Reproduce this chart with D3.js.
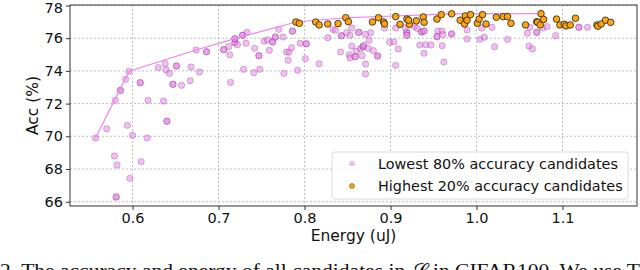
<!DOCTYPE html>
<html>
<head>
<meta charset="utf-8">
<script src="https://cdn.jsdelivr.net/npm/d3@7"></script>
<style>
  body { margin: 0; background: #fff; }
  svg { display: block; font-family: "DejaVu Sans", sans-serif; }
</style>
</head>
<body>
<div id="chart"></div>
<script>
// Daten
const lowPoints = [
  [0.557, 69.9], [0.570, 70.45], [0.594, 70.67], [0.600, 70.06], [0.617, 69.9],
  [0.640, 70.92], [0.640, 70.92], [0.579, 68.8], [0.582, 68.24], [0.610, 68.45],
  [0.597, 67.43], [0.581, 66.29], [0.581, 66.29], [0.580, 72.2], [0.618, 72.2],
  [0.636, 72.16], [0.592, 73.49], [0.586, 72.81], [0.586, 72.81], [0.609, 73.28],
  [0.609, 73.28], [0.596, 73.98], [0.630, 74.2], [0.638, 74.44], [0.639, 74.06],
  [0.643, 73.85], [0.651, 74.3], [0.651, 74.3], [0.647, 73.18], [0.647, 73.18],
  [0.657, 73.12], [0.667, 73.4], [0.668, 74.24], [0.678, 73.93], [0.674, 75.28],
  [0.686, 75.17], [0.686, 75.17], [0.706, 75.3], [0.706, 75.3], [0.712, 75.49],
  [0.713, 74.98], [0.719, 75.73], [0.719, 75.73], [0.719, 75.97], [0.719, 75.97],
  [0.722, 75.6], [0.728, 76.18], [0.728, 76.18], [0.733, 76.36], [0.732, 75.69],
  [0.742, 75.38], [0.747, 74.93], [0.747, 74.93], [0.753, 75.81], [0.757, 75.89],
  [0.763, 75.77], [0.763, 75.77], [0.766, 76.07], [0.766, 76.07], [0.770, 76.54],
  [0.775, 76.07], [0.759, 75.26], [0.779, 75.16], [0.782, 75.14], [0.785, 75.42],
  [0.781, 74.65], [0.786, 76.43], [0.786, 76.43], [0.795, 75.69], [0.802, 75.66],
  [0.802, 75.66], [0.801, 74.75], [0.792, 74.04], [0.776, 73.85], [0.748, 74.1],
  [0.741, 73.89], [0.729, 74.1], [0.714, 73.3],
  [0.827, 76.03], [0.833, 76.54], [0.836, 76.48], [0.843, 76.15], [0.843, 76.15],
  [0.849, 76.34], [0.855, 76.62], [0.853, 76.18], [0.863, 76.36], [0.863, 76.36],
  [0.871, 76.24], [0.877, 76.34], [0.875, 75.87], [0.842, 75.16], [0.855, 75.51],
  [0.865, 75.36], [0.868, 75.48], [0.868, 75.48], [0.869, 75.56], [0.860, 75.2],
  [0.852, 74.99], [0.853, 74.79], [0.859, 74.87], [0.859, 74.87], [0.867, 74.93],
  [0.874, 75.38], [0.880, 75.24], [0.885, 74.91], [0.885, 74.91], [0.871, 74.42],
  [0.871, 73.81], [0.817, 74.44], [0.893, 76.62], [0.899, 75.75], [0.904, 75.77],
  [0.906, 76.62], [0.909, 75.34], [0.906, 74.34], [0.919, 76.36], [0.919, 76.36],
  [0.919, 76.18], [0.919, 76.18], [0.917, 76.62], [0.928, 76.71], [0.931, 76.6],
  [0.936, 76.38], [0.936, 76.38], [0.939, 76.44], [0.939, 76.44], [0.955, 76.44],
  [0.960, 76.44], [0.954, 76.09], [0.954, 76.09], [0.961, 76.21], [0.971, 76.26],
  [0.971, 76.26], [0.989, 76.5], [0.989, 75.95], [1.006, 76.62], [1.018, 76.67],
  [1.004, 75.93], [1.009, 76.06], [1.036, 75.93], [0.934, 75.58], [0.941, 75.6],
  [0.947, 75.58], [0.960, 75.54], [0.939, 75.08], [0.962, 74.54], [1.021, 75.48],
  [1.119, 76.67], [1.119, 76.67], [1.129, 76.67], [1.062, 76.67], [1.059, 76.3],
  [1.070, 76.36], [1.070, 76.36], [1.077, 76.62], [1.082, 76.71], [1.092, 76.15],
  [1.061, 75.52], [1.065, 75.34]
];

const highPoints = [
  [0.790, 76.99], [0.794, 76.91], [0.813, 76.99], [0.817, 76.81], [0.827, 76.87],
  [0.839, 76.89], [0.848, 77.25], [0.851, 77.01], [0.879, 76.99], [0.886, 77.25],
  [0.892, 76.99], [0.893, 76.87], [0.906, 77.32], [0.911, 76.85], [0.919, 77.17],
  [0.922, 76.85], [0.921, 77.1], [0.930, 77.06], [0.938, 77.3], [0.939, 76.97],
  [0.954, 77.17], [0.959, 77.44], [0.971, 77.49], [0.981, 77.1], [0.986, 76.87],
  [0.987, 77.36], [0.989, 77.1], [0.993, 77.44], [1.001, 76.91], [1.003, 77.17],
  [1.007, 77.44], [1.011, 76.87], [1.023, 77.28], [1.031, 77.32], [1.036, 77.32],
  [1.040, 76.91], [1.057, 76.81], [1.070, 77.01], [1.075, 77.5], [1.071, 76.97],
  [1.074, 76.81], [1.078, 77.15], [1.093, 77.17], [1.097, 76.81], [1.102, 76.85],
  [1.104, 76.75], [1.109, 76.81], [1.115, 77.22], [1.140, 76.81], [1.141, 76.73],
  [1.145, 76.87], [1.150, 77.1], [1.156, 76.97]
];

const frontLine = [
  [0.557, 69.9], [0.596, 73.98], [0.674, 75.28], [0.719, 75.97], [0.790, 76.99],
  [0.848, 77.25], [0.971, 77.49], [1.075, 77.5]
];

const xTicks = [0.6, 0.7, 0.8, 0.9, 1.0, 1.1];
const yTicks = [66, 68, 70, 72, 74, 76, 78];
const legendLabels = ["Lowest 80% accuracy candidates", "Highest 20% accuracy candidates"];
const caption = "2.  The accuracy and energy of all candidates in \u{1D4AE} in CIFAR100.  We use T";

// Aufbau
const breite = 640, hoehe = 270;
const plot = { left: 70, right: 637, top: 5, bottom: 206 };

const svg = d3.select("#chart").append("svg")
  .attr("width", breite)
  .attr("height", hoehe);

const x = d3.scaleLinear().domain([0.5273, 1.1866]).range([plot.left, plot.right]);
const y = d3.scaleLinear().domain([65.737, 78.03]).range([plot.bottom, plot.top]);

// Gitter
const grid = svg.append("g").attr("class", "grid");
grid.selectAll(".gx").data(xTicks).enter().append("line")
  .attr("x1", d => x(d)).attr("x2", d => x(d))
  .attr("y1", plot.top).attr("y2", plot.bottom);
grid.selectAll(".gy").data(yTicks).enter().append("line")
  .attr("x1", plot.left).attr("x2", plot.right)
  .attr("y1", d => y(d)).attr("y2", d => y(d));
grid.selectAll("line")
  .style("stroke", "#b0b0b0")
  .style("stroke-width", 0.8)
  .style("stroke-dasharray", "2,2");

// Punkte
const dataGroup = svg.append("g");
dataGroup.selectAll(".low").data(lowPoints).enter().append("circle")
  .attr("class", "low")
  .attr("cx", d => x(d[0])).attr("cy", d => y(d[1]))
  .attr("r", 3.2)
  .style("fill", "violet").style("fill-opacity", 0.55)
  .style("stroke", "#000").style("stroke-opacity", 0.3).style("stroke-width", 0.6);

dataGroup.append("path")
  .datum(frontLine)
  .attr("d", d3.line().x(d => x(d[0])).y(d => y(d[1])))
  .style("fill", "none").style("stroke", "violet").style("stroke-width", 1.2);

dataGroup.selectAll(".high").data(highPoints).enter().append("circle")
  .attr("class", "high")
  .attr("cx", d => x(d[0])).attr("cy", d => y(d[1]))
  .attr("r", 3.3)
  .style("fill", "#ffa000").style("fill-opacity", 0.95)
  .style("stroke", "#222").style("stroke-width", 0.8);

// Achsen
const xAxisG = svg.append("g")
  .attr("transform", `translate(0,${plot.bottom})`)
  .call(d3.axisBottom(x).tickValues(xTicks).tickFormat(d3.format(".1f")).tickSize(4).tickSizeOuter(0));
const yAxisG = svg.append("g")
  .attr("transform", `translate(${plot.left},0)`)
  .call(d3.axisLeft(y).tickValues(yTicks).tickSize(4).tickSizeOuter(0));

[xAxisG, yAxisG].forEach(g => {
  g.select(".domain").remove();
  g.selectAll("line").style("stroke", "#333");
  g.selectAll("text").style("font-size", "14.5px").style("fill", "#111")
    .style("font-family", "DejaVu Sans, sans-serif");
});
// oberstes Label etwas nach unten, damit es nicht abgeschnitten wird
yAxisG.selectAll("text").filter(d => d === 78).attr("dy", "0.5em");

svg.append("rect")
  .attr("x", plot.left).attr("y", plot.top)
  .attr("width", plot.right - plot.left).attr("height", plot.bottom - plot.top)
  .style("fill", "none").style("stroke", "#333").style("stroke-width", 1);

svg.append("text")
  .attr("x", (plot.left + plot.right) / 2).attr("y", 241)
  .attr("text-anchor", "middle")
  .style("font-size", "15.5px").style("fill", "#111")
  .text("Energy (uJ)");

svg.append("text")
  .attr("transform", `translate(38,${(plot.top + plot.bottom) / 2}) rotate(-90)`)
  .attr("text-anchor", "middle")
  .style("font-size", "15.5px").style("fill", "#111")
  .text("Acc (%)");

// Legende
const legend = svg.append("g");
legend.append("rect")
  .attr("x", 332).attr("y", 152).attr("width", 296).attr("height", 47).attr("rx", 3)
  .style("fill", "#fff").style("fill-opacity", 0.8)
  .style("stroke", "#d0d0d0").style("stroke-width", 0.8);

const legendStyles = [
  { fill: "violet", opacity: 0.5, stroke: "rgba(0,0,0,0.2)" },
  { fill: "#ffa000", opacity: 0.95, stroke: "#444" }
];
legendLabels.forEach((label, i) => {
  const ly = 163.5 + i * 22.5;
  legend.append("circle")
    .attr("cx", 352).attr("cy", ly).attr("r", 2.5)
    .style("fill", legendStyles[i].fill).style("fill-opacity", legendStyles[i].opacity)
    .style("stroke", legendStyles[i].stroke).style("stroke-width", 0.5);
  legend.append("text")
    .attr("x", 378).attr("y", ly + 5)
    .style("font-size", "14.4px").style("fill", "#111")
    .text(label);
});

// Bildunterschrift (abgeschnitten)
svg.append("text")
  .attr("x", 0).attr("y", 277)
  .attr("textLength", 640).attr("lengthAdjust", "spacingAndGlyphs")
  .style("font-family", "Liberation Serif, serif")
  .style("font-size", "19px").style("fill", "#111")
  .text(caption);
</script>
</body>
</html>
